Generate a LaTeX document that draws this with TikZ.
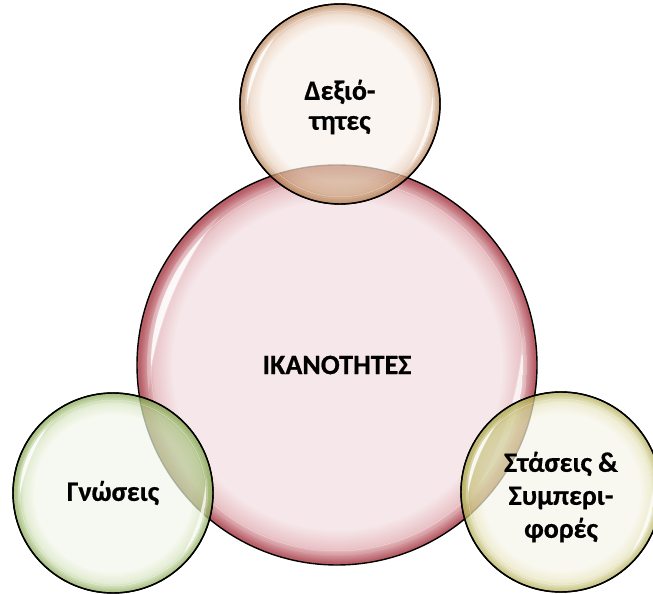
\documentclass[tikz,border=0pt]{standalone}
\usepackage{fontspec}
\setmainfont{Carlito}[BoldFeatures={FakeBold=0.6}]
\usetikzlibrary{calc}

% bubble colours: light interior, tinted band, darker rim
\definecolor{coreIn}{HTML}{F6E8EA}
\definecolor{coreMid}{HTML}{E9C3C7}
\definecolor{coreRim}{HTML}{B85F68}
\definecolor{skillIn}{HTML}{F9F1EB}
\definecolor{skillMid}{HTML}{EBD3C0}
\definecolor{skillRim}{HTML}{B98458}
\definecolor{knowIn}{HTML}{F3F7EC}
\definecolor{knowMid}{HTML}{D9E6C3}
\definecolor{knowRim}{HTML}{8AAA55}
\definecolor{attIn}{HTML}{F7F5EA}
\definecolor{attMid}{HTML}{E9E6C2}
\definecolor{attRim}{HTML}{B3AE55}

% the circle's edge sits at 25bp of the shading
\pgfdeclareradialshading{bubcore}{\pgfpoint{0bp}{0bp}}{color(0bp)=(coreIn); color(20.5bp)=(coreIn); color(23bp)=(coreMid); color(24.7bp)=(coreRim); color(50bp)=(coreRim)}
\pgfdeclareradialshading{bubskill}{\pgfpoint{0bp}{0bp}}{color(0bp)=(skillIn); color(19.5bp)=(skillIn); color(22.5bp)=(skillMid); color(24.7bp)=(skillRim); color(50bp)=(skillRim)}
\pgfdeclareradialshading{bubknow}{\pgfpoint{0bp}{0bp}}{color(0bp)=(knowIn); color(19.5bp)=(knowIn); color(22.5bp)=(knowMid); color(24.7bp)=(knowRim); color(50bp)=(knowRim)}
\pgfdeclareradialshading{bubatt}{\pgfpoint{0bp}{0bp}}{color(0bp)=(attIn); color(19.5bp)=(attIn); color(22.5bp)=(attMid); color(24.7bp)=(attRim); color(50bp)=(attRim)}

% white crescent reflection inside a bubble: centre, radius, angle, opacity
\newcommand\bubgloss[4]{%
  \begin{scope}
    \clip (#1) circle ({0.95*#2});
    \fill[white, opacity=0.3*#4, even odd rule]
      (#1) circle ({0.95*#2}) ($(#1)+(#3+180:{0.82*#2})$) circle ({1.71*#2});
  \end{scope}
  \begin{scope}
    \clip (#1) circle ({0.93*#2});
    \fill[white, opacity=#4, even odd rule]
      (#1) circle ({0.93*#2}) ($(#1)+(#3+180:{0.82*#2})$) circle ({1.715*#2});
  \end{scope}}

% darker tint where a small bubble lies over the central one:
% small centre, small radius, tint colour
\newcommand\bubmix[3]{%
  \begin{scope}
    \clip (#1) circle (#2);
    \fill[#3, opacity=0.38] (core.center) circle (200);
  \end{scope}}

\tikzset{
  bub/.style={circle, draw=black, line width=1.4pt, inner sep=0pt,
    align=center, text=black, text opacity=1,
    font=\bfseries\fontsize{28}{30}\selectfont},
  smallbub/.style={bub, minimum size=200pt, fill opacity=0.72},
  bubtext/.style={font=\bfseries\fontsize{28}{#1}\selectfont, align=center}
}

\begin{document}
\begin{tikzpicture}[x=1pt, y=1pt]
  \useasboundingbox (0,0) rectangle (653,594);
  \clip (0,0) rectangle (653,594);

  % central bubble
  \node[bub, minimum size=400pt, shading=bubcore] (core) at (337,229) {ΙΚΑΝΟΤΗΤΕΣ};
  \bubgloss{core.center}{200}{158}{0.85}
  \bubgloss{core.center}{200}{-18}{0.7}

  % skills
  \node[smallbub, shading=bubskill] (skills) at (340,490) {};
  \bubmix{skills.center}{100}{skillRim}
  \draw[line width=1.4pt] (skills) circle (100);
  \node[bubtext=30] (skillsT) at ([yshift=-3pt]skills.center) {Δεξιό-\\τητες};
  \bubgloss{skills.center}{100}{158}{0.85}
  \bubgloss{skills.center}{100}{-18}{0.7}

  % knowledge
  \node[smallbub, shading=bubknow] (know) at (113,101) {};
  \bubmix{know.center}{100}{knowRim}
  \draw[line width=1.4pt] (know) circle (100);
  \node[bubtext=30] (knowT) at (know.center) {Γνώσεις};
  \bubgloss{know.center}{100}{158}{0.85}
  \bubgloss{know.center}{100}{-18}{0.7}

  % attitudes and behaviours
  \node[smallbub, shading=bubatt] (att) at (561,102) {};
  \bubmix{att.center}{100}{attRim}
  \draw[line width=1.4pt] (att) circle (100);
  \node[bubtext=33] (attT) at ([yshift=-5pt]att.center) {Στάσεις \&\\Συμπερι-\\φορές};
  \bubgloss{att.center}{100}{158}{0.85}
  \bubgloss{att.center}{100}{-18}{0.7}
\end{tikzpicture}
\end{document}
